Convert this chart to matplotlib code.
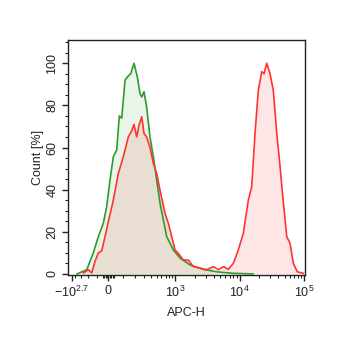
import numpy as np
import matplotlib
matplotlib.use("Agg")
import matplotlib.pyplot as plt
from matplotlib.ticker import MultipleLocator

plt.rcParams['font.family'] = ['Liberation Sans', 'DejaVu Sans']
plt.rcParams['mathtext.fontset'] = 'custom'
plt.rcParams['mathtext.rm'] = 'Liberation Sans'
plt.rcParams['mathtext.it'] = 'Liberation Sans:italic'

# x in display (decade) units of the biexponential APC-H axis: 10^3 -> 3, 10^4 -> 4, 10^5 -> 5
green_x = [1.481, 1.631, 1.733, 1.811, 1.888, 1.941, 1.992, 2.043, 2.096, 2.136, 2.174,
           2.225, 2.276, 2.313, 2.364, 2.416, 2.457, 2.484, 2.519, 2.561, 2.612, 2.664,
           2.716, 2.767, 2.819, 2.871, 2.974, 3.078, 3.233, 3.439, 3.647, 3.899, 4.209]
green_y = [0, 2, 10, 17.7, 24, 32, 44.5, 55.6, 58.8, 75, 74,
           92, 94, 95, 100, 93.5, 85.6, 84, 86.5, 79, 65, 55.6,
           44.5, 33.6, 25.6, 17.7, 11.4, 7.5, 4.3, 2.2, 1, 0.3, 0]

red_x = [1.578, 1.656, 1.709, 1.760, 1.811, 1.864, 1.915, 1.966, 2.043, 2.121, 2.198,
         2.276, 2.329, 2.364, 2.406, 2.442, 2.484, 2.519, 2.561, 2.612, 2.664, 2.716,
         2.767, 2.845, 2.896, 2.949, 3.000, 3.051, 3.129, 3.206, 3.284, 3.388, 3.491,
         3.594, 3.671, 3.749, 3.826, 3.904, 3.981, 4.059, 4.136, 4.189, 4.240, 4.291,
         4.344, 4.380, 4.422, 4.473, 4.524, 4.577, 4.628, 4.670, 4.732, 4.783, 4.834,
         4.896, 4.989]
red_y = [0.5, 2, 0.5, 6, 10, 11, 17.7, 24.8, 35, 47.7, 55.6,
         65, 68, 71, 65, 70.6, 74.6, 66.7, 65, 60, 52.4, 47.7,
         39.8, 28.8, 24, 17.7, 11.4, 9.8, 6.6, 6.6, 3.5, 2.7, 2,
         3.5, 2, 3.5, 2.2, 5, 11.4, 19.3, 35, 41.4, 66.7, 87.2,
         96, 95, 100, 95, 87, 66.7, 51, 36.6, 17.7, 14.5, 5,
         1, 0.3]

x_tick_labels = ['$-10^{2.7}$', '0', '$10^3$', '$10^4$', '$10^5$']
x_tick_values = [-10 ** 2.7, 0, 1e3, 1e4, 1e5]
y_ticks = [0, 20, 40, 60, 80, 100]

# biexponential-like transform to display units
W = 182.8
U0 = np.log10(W / 2)
U_MIN = 1.38


def biex(v):
    v = np.asarray(v, dtype=float)
    pos = U0 + np.arcsinh(v / W) / np.log(10)
    neg = U0 - (U0 - U_MIN) * np.arcsinh(np.abs(v) / W) / np.arcsinh(10 ** 2.7 / W)
    return np.where(v >= 0, pos, neg)


fig = plt.figure(figsize=(3.47, 3.47), dpi=100)
ax = fig.add_axes([0.196, 0.2075, 0.683, 0.677])

gx = np.array(green_x); gy = np.array(green_y)
rx = np.array(red_x); ry = np.array(red_y)

ax.fill_between(gx, 0, gy, color='#e9f5e8', lw=0, zorder=1)
split = 3.6
ax.fill_between(rx, 0, ry, where=rx <= split + 0.05, color='#e8ded2', lw=0, zorder=2)
ax.fill_between(rx, 0, ry, where=rx >= split, color='#ffe6e6', lw=0, zorder=2)
ax.plot(gx, gy, color='#2f9a2f', lw=1.2, zorder=3)
ax.plot(rx, ry, color='#ff3333', lw=1.2, zorder=4)

ax.set_xlim(1.341, 5.015)
ax.set_ylim(-0.5, 111)

major_pos = biex(x_tick_values)
major_pos[0] = 1.40
major_pos[3] = 4.0
major_pos[4] = 5.0
ax.set_xticks(major_pos)
ax.set_xticklabels(x_tick_labels)

minor_vals = [-400, -300, -200, -100, -40, -30, -20, -10, 10, 20, 30, 40]
minor_vals += [100 * k for k in range(1, 10)]
minor_vals += [1000 * k for k in range(2, 10)]
minor_vals += [10000 * k for k in range(2, 10)]
mp = list(biex(minor_vals))
ax.set_xticks(mp, minor=True)

ax.set_yticks(y_ticks)
ax.yaxis.set_minor_locator(MultipleLocator(5))
for lab in ax.get_yticklabels():
    lab.set_rotation(90)
    lab.set_va('center')

ax.tick_params(axis='both', which='major', length=4, width=1, labelsize=9, colors='#222222', pad=3)
ax.tick_params(axis='both', which='minor', length=2.5, width=0.8, colors='#222222')
for s in ax.spines.values():
    s.set_linewidth(1)
    s.set_color('#222222')

ax.set_ylabel('Count [%]', fontsize=9, color='#222222', labelpad=2)
ax.set_xlabel('APC-H', fontsize=9, color='#222222', labelpad=5)

fig.savefig('out.png', dpi=100, facecolor='white')
